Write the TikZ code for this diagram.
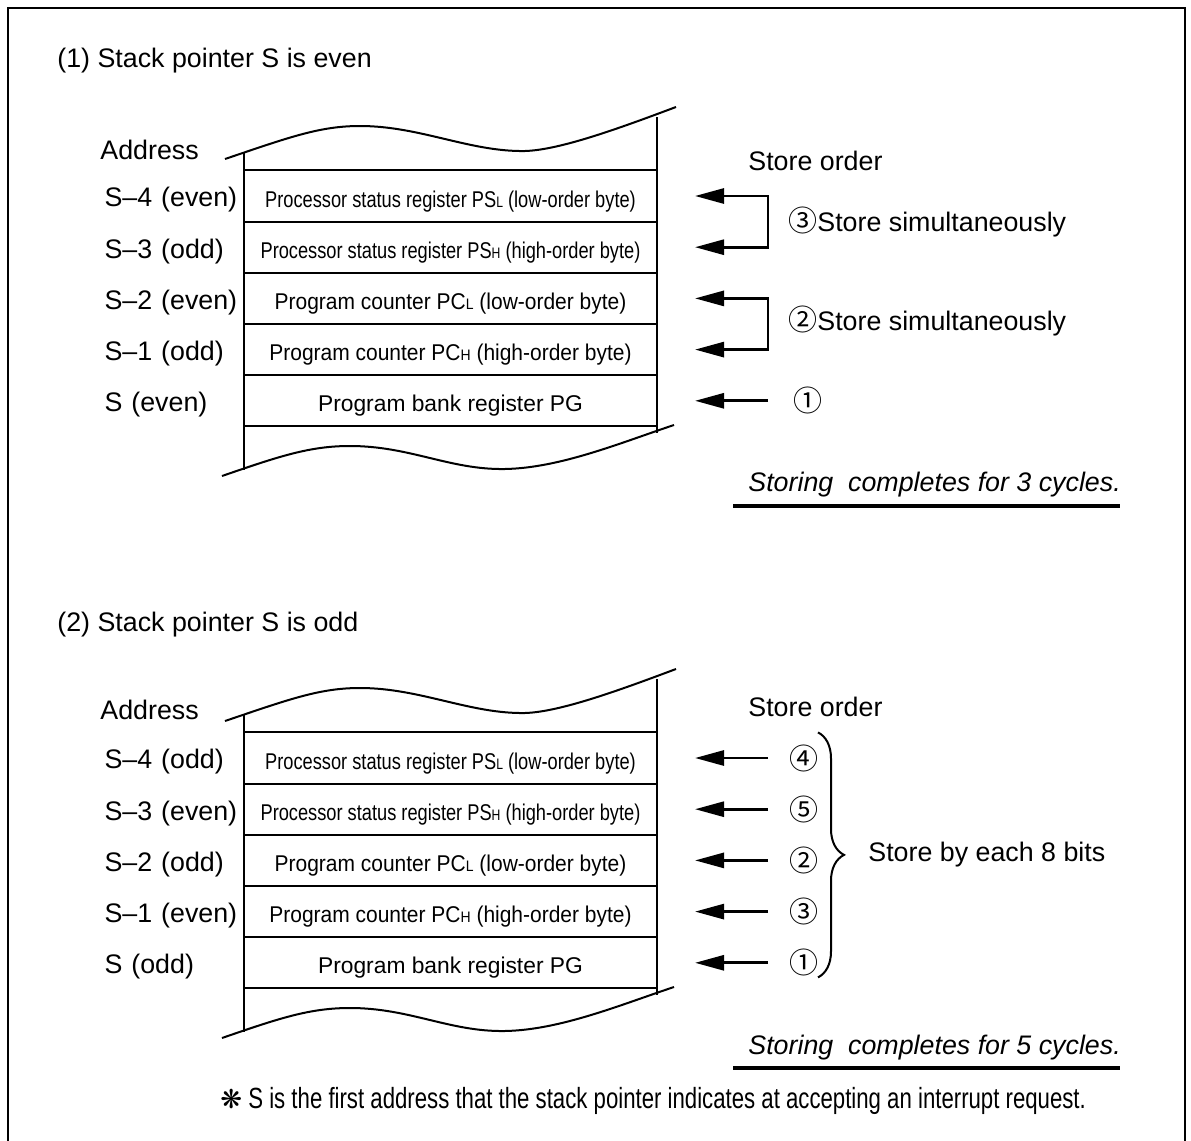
\documentclass[tikz,border=0pt]{standalone}
\usepackage{fontspec}
\setmainfont{Liberation Sans}
\newfontfamily\narrowfont[FakeStretch=0.80]{Liberation Sans}
\newfontfamily\pcfont[FakeStretch=0.92]{Liberation Sans}
\newfontfamily\footfont[FakeStretch=0.76]{Liberation Sans}
\newfontfamily\dingfont{DejaVu Sans}
\newfontfamily\circfont{Noto Sans CJK SC}
\usepackage{tikz}
\usetikzlibrary{arrows.meta, positioning, calc, decorations.pathreplacing}

\newcommand{\bytesub}[1]{{\fontsize{7.6}{8}\selectfont #1}}
\newcommand{\circnum}[1]{{\circfont\fontsize{14.5}{14}\selectfont #1}}

\begin{document}
\begin{tikzpicture}[
        x=0.5pt, y=-0.5pt,
        line/.style={line width=1pt},
        cell/.style={draw, line width=1pt, outer sep=0pt, inner sep=0pt, minimum width=206.5pt, minimum height=25.6pt, text height=11pt, text depth=0pt, font=\fontsize{11.4}{13}\selectfont},
        pscell/.style={cell, font=\narrowfont\fontsize{11.4}{13}\selectfont},
        pccell/.style={cell, font=\pcfont\fontsize{11.4}{13}\selectfont},
        addr/.style={text width=68pt, align=left, inner sep=0pt, yshift=-2pt, font=\fontsize{13.4}{16}\selectfont},
        note/.style={inner sep=0pt, anchor=west, font=\fontsize{13.4}{16}\selectfont},
        cycles/.style={note, font=\fontsize{13.4}{16}\selectfont\itshape},
        num/.style={inner sep=0pt, font=\circfont\fontsize{14.5}{14}\selectfont},
        foot/.style={inner sep=0pt, anchor=west, font=\footfont\fontsize{14.6}{16}\selectfont},
        arrow/.style={-{Triangle[length=14.5pt, width=7.5pt]}, line width=1.4pt},
        pairarrow/.style={{Triangle[length=14.5pt, width=7.5pt]}-{Triangle[length=14.5pt, width=7.5pt]}, line width=1.4pt},
        uline/.style={line width=1.6pt},
        bracepath/.style={line width=1pt, decorate, decoration={brace, amplitude=13pt}}
    ]
        \useasboundingbox (0,0) rectangle (1191,1141);
        \draw[line] (8,8) rectangle (1185,1170);

        % (1) stack pointer even
        \node[note] (title1) at (57,61) {(1) Stack pointer S is even};
        \node[note] (addr1) at (100,150) {Address};
        \node[pscell] (c1) at (450.5,196) {Processor status register PS\bytesub{L} (low-order byte)};
        \node[pscell, below=0pt of c1] (c2) {Processor status register PS\bytesub{H} (high-order byte)};
        \node[pccell, below=0pt of c2] (c3) {Program counter PC\bytesub{L} (low-order byte)};
        \node[pccell, below=0pt of c3] (c4) {Program counter PC\bytesub{H} (high-order byte)};
        \node[cell, below=0pt of c4] (c5) {Program bank register PG};
        \node[addr, left=1.5pt of c1] (l1) {S--4 (even)};
        \node[addr, left=1.5pt of c2] (l2) {S--3 (odd)};
        \node[addr, left=1.5pt of c3] (l3) {S--2 (even)};
        \node[addr, left=1.5pt of c4] (l4) {S--1 (odd)};
        \node[addr, left=1.5pt of c5] (l5) {S (even)};
        \draw[line] (225,159) .. controls (290,137) and (320,126) .. (360,126) .. controls (420,126) and (470,152) .. (525,151) .. controls (560,150) and (620,128) .. (676,107);
        \draw[line] (222,476) .. controls (280,456) and (310,446) .. (350,446) .. controls (410,446) and (450,470) .. (505,469) .. controls (560,468) and (620,443) .. (674,425);
        \draw[line] (244,153) -- (244,470);
        \draw[line] (657,117) -- (657,433);

        \node[note] (order1) at (748,161) {Store order};
        \foreach \i in {1,...,5} {
            \coordinate (t\i) at ($(c\i.east)+(38,0)$);
            \coordinate (k\i) at ($(c\i.east)+(111,0)$);
        }
        \draw[pairarrow] (t1) -- (k1) -- (k2) -- (t2);
        \draw[pairarrow] (t3) -- (k3) -- (k4) -- (t4);
        \draw[arrow] (k5) -- (t5);
        \node[note] (simul3) at ($(k1)!0.5!(k2)+(20,0)$) {\circnum{③}Store simultaneously};
        \node[note] (simul2) at ($(k3)!0.5!(k4)+(20,-3)$) {\circnum{②}Store simultaneously};
        \node[num] (n1) at ($(k5)+(40,0)$) {①};
        \node[cycles] (cyc1) at (748,485) {Storing\ \ completes for 3 cycles.};
        \draw[uline] (733,506) -- (1120,506);

        % (2) stack pointer odd
        \node[note] (title2) at (57,625) {(2) Stack pointer S is odd};
        \node[note] (addr2) at (100,710) {Address};
        \node[pscell] (d1) at (450.5,758) {Processor status register PS\bytesub{L} (low-order byte)};
        \node[pscell, below=0pt of d1] (d2) {Processor status register PS\bytesub{H} (high-order byte)};
        \node[pccell, below=0pt of d2] (d3) {Program counter PC\bytesub{L} (low-order byte)};
        \node[pccell, below=0pt of d3] (d4) {Program counter PC\bytesub{H} (high-order byte)};
        \node[cell, below=0pt of d4] (d5) {Program bank register PG};
        \node[addr, left=1.5pt of d1] (m1) {S--4 (odd)};
        \node[addr, left=1.5pt of d2] (m2) {S--3 (even)};
        \node[addr, left=1.5pt of d3] (m3) {S--2 (odd)};
        \node[addr, left=1.5pt of d4] (m4) {S--1 (even)};
        \node[addr, left=1.5pt of d5] (m5) {S (odd)};
        \draw[line] (225,721) .. controls (290,699) and (320,688) .. (360,688) .. controls (420,688) and (470,714) .. (525,713) .. controls (560,712) and (620,690) .. (676,669);
        \draw[line] (222,1038) .. controls (280,1018) and (310,1008) .. (350,1008) .. controls (410,1008) and (450,1032) .. (505,1031) .. controls (560,1030) and (620,1005) .. (674,987);
        \draw[line] (244,715) -- (244,1032);
        \draw[line] (657,679) -- (657,995);

        \node[note] (order2) at (748,707) {Store order};
        \foreach \i/\n in {1/④,2/⑤,3/②,4/③,5/①} {
            \coordinate (u\i) at ($(d\i.east)+(38,0)$);
            \coordinate (e\i) at ($(d\i.east)+(111,0)$);
            \draw[arrow] (e\i) -- (u\i);
            \node[num] (p\i) at ($(e\i)+(36,0)$) {\n};
        }
        \coordinate (bt) at ($(d1.north east)+(161,0)$);
        \coordinate (bb) at ($(d5.south east)+(161,-11)$);
        \coordinate (bm) at ($(bt)!0.5!(bb)$);
        \draw[bracepath] (bt) -- (bb);
        \node[note, right=25pt of bm] (each) {Store by each 8 bits};
        \node[cycles] (cyc2) at (748,1048) {Storing\ \ completes for 5 cycles.};
        \draw[uline] (733,1068) -- (1120,1068);

        \node[foot] (remark) at (220,1101) {{\dingfont\fontsize{13}{14}\selectfont ❋} S is the first address that the stack pointer indicates at accepting an interrupt request.};
    \end{tikzpicture}
\end{document}
